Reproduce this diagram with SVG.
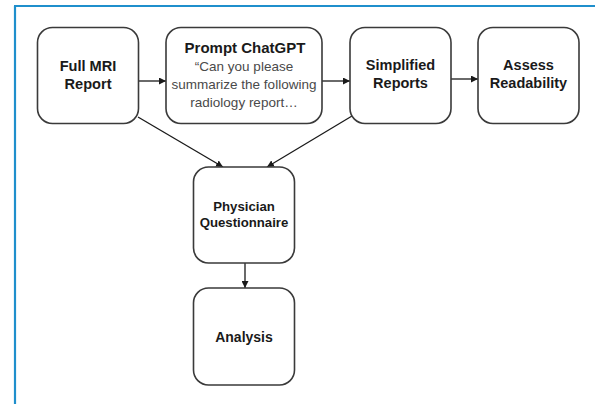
<svg xmlns="http://www.w3.org/2000/svg" width="595" height="404" viewBox="0 0 595 404">
<style>
.box{fill:#fff;stroke:#3a3a3a;stroke-width:1.6}
.b{font-family:"Liberation Sans",Arial,sans-serif;font-weight:bold;fill:#1a1a1a;text-anchor:middle}
.r{font-family:"Liberation Sans",Arial,sans-serif;fill:#4a4a4a;text-anchor:middle;font-size:13.5px}
.c{stroke:#1a1a1a;stroke-width:1.3;fill:none;marker-end:url(#ah)}
</style>
<defs>
<marker id="ah" viewBox="0 0 10 10" refX="10" refY="5" markerWidth="7" markerHeight="7" markerUnits="userSpaceOnUse" orient="auto">
<path d="M0,0 L10,5 L0,10 z" fill="#1a1a1a"/>
</marker>
</defs>
<rect width="595" height="404" fill="#fff"/>
<line x1="15" y1="6" x2="15" y2="404" stroke="#1f8fcc" stroke-width="2.2"/>
<line x1="14" y1="6" x2="595" y2="6" stroke="#1f8fcc" stroke-width="2.2"/>
<g id="connectors">
<line class="c" x1="138" y1="81" x2="166" y2="81"/>
<line class="c" x1="322" y1="81" x2="350" y2="81"/>
<line class="c" x1="451" y1="79" x2="478" y2="79"/>
<line class="c" x1="138" y1="117" x2="223" y2="167"/>
<line class="c" x1="352" y1="116" x2="267" y2="167"/>
<line class="c" x1="245" y1="263" x2="245" y2="288"/>
</g>
<g id="full-mri">
<rect class="box" x="37.5" y="27.5" width="101" height="96" rx="15"/>
<text class="b" font-size="14.6" x="88" y="71">Full MRI</text>
<text class="b" font-size="14.6" x="88" y="89">Report</text>
</g>
<g id="prompt">
<rect class="box" x="166" y="27.5" width="156" height="96" rx="15"/>
<text class="b" font-size="15" x="245" y="53">Prompt ChatGPT</text>
<text class="r" x="244" y="71">“Can you please</text>
<text class="r" x="244" y="89">summarize the following</text>
<text class="r" x="244" y="107">radiology report…</text>
</g>
<g id="simplified">
<rect class="box" x="350" y="27.5" width="101" height="96" rx="15"/>
<text class="b" font-size="14.5" x="400.5" y="70">Simplified</text>
<text class="b" font-size="14.5" x="400.5" y="88">Reports</text>
</g>
<g id="assess">
<rect class="box" x="478" y="27.5" width="101" height="96" rx="15"/>
<text class="b" font-size="14.5" x="528.5" y="70">Assess</text>
<text class="b" font-size="14.5" x="528.5" y="88">Readability</text>
</g>
<g id="physician">
<rect class="box" x="193.5" y="167" width="101" height="96" rx="15"/>
<text class="b" font-size="13.2" x="244" y="210.5">Physician</text>
<text class="b" font-size="13.2" x="244" y="227">Questionnaire</text>
</g>
<g id="analysis">
<rect class="box" x="193.5" y="288" width="101" height="97" rx="15"/>
<text class="b" font-size="14" x="244" y="342">Analysis</text>
</g>
</svg>
